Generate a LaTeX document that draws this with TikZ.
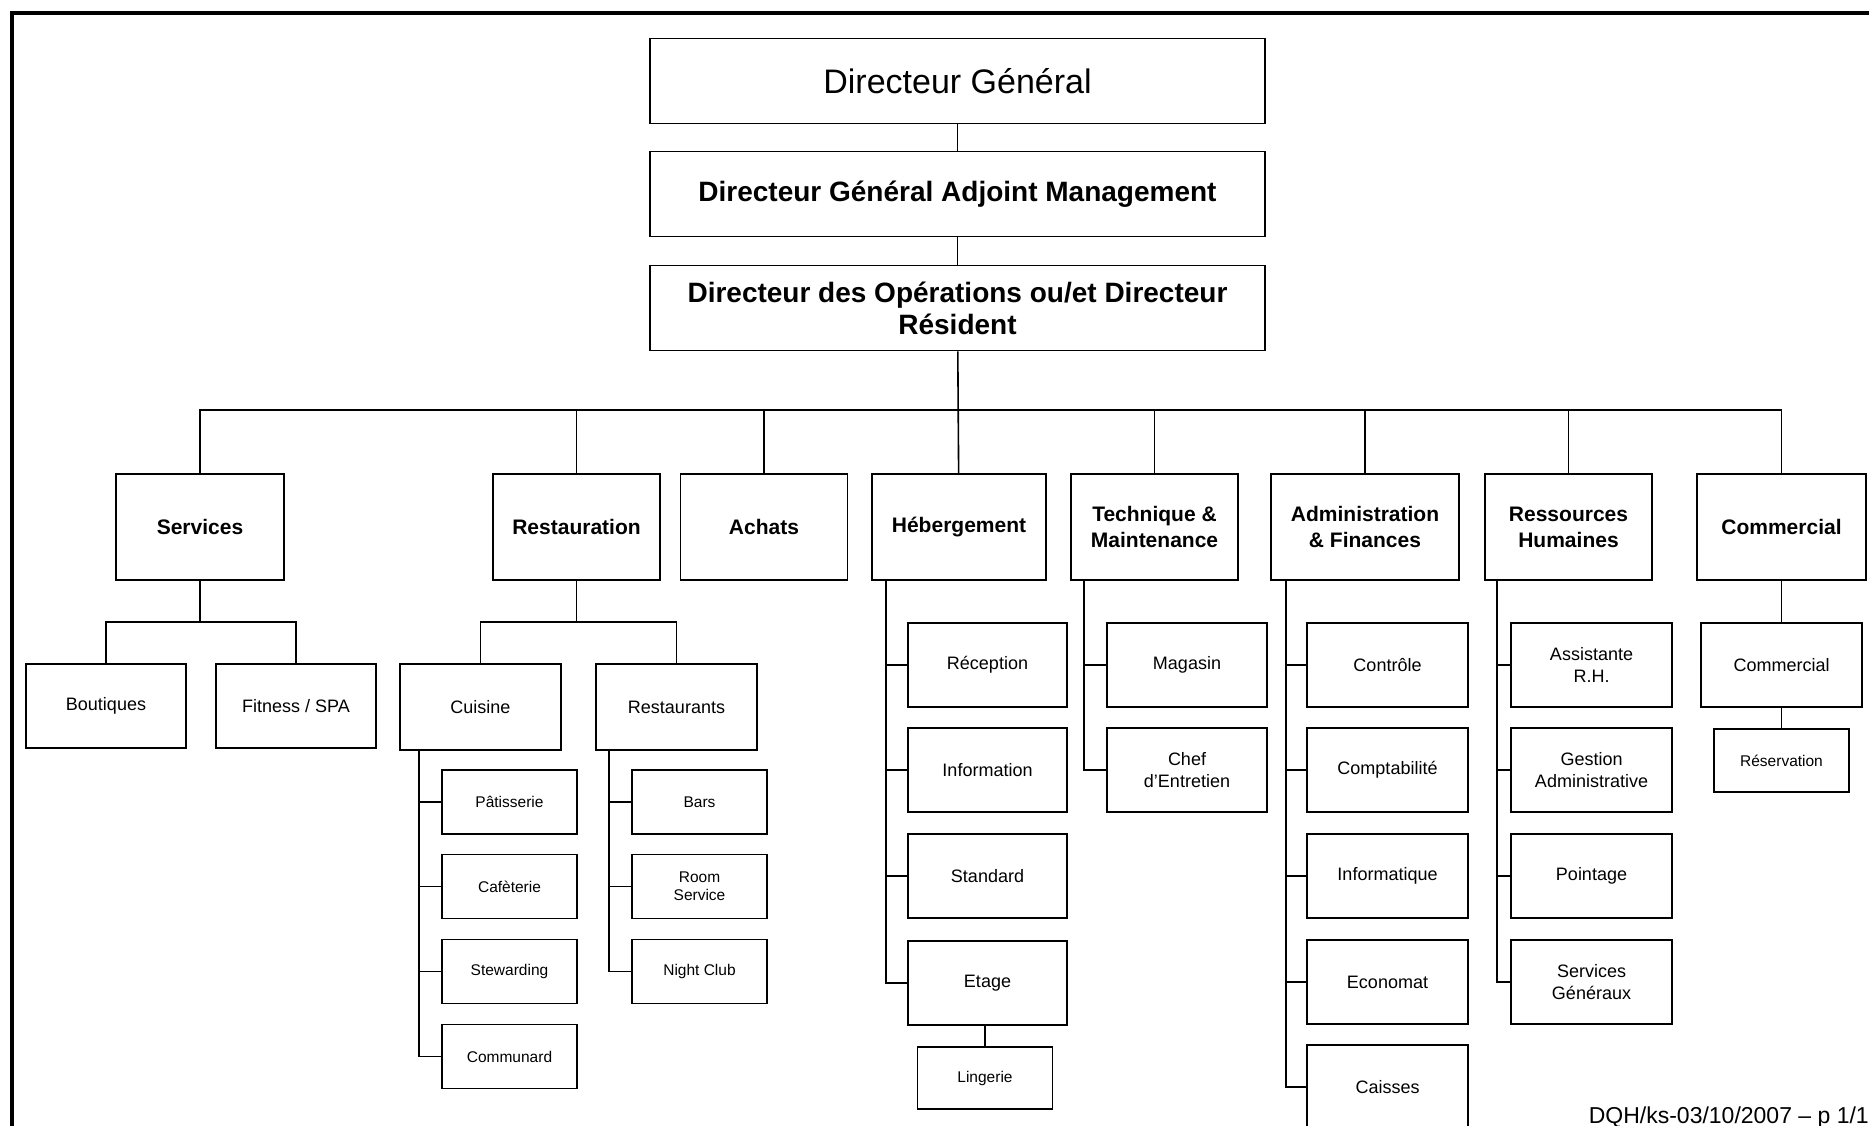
\documentclass[tikz,border=0pt]{standalone}
\usepackage{fontspec}
\setmainfont{Liberation Sans}

\begin{document}
\begin{tikzpicture}[x=1pt,y=-1pt,
	box/.style={draw,line width=1.6pt,align=center,inner sep=0pt},
	chief/.style={box,minimum width=615pt,minimum height=85pt,font=\bfseries\fontsize{28}{32}\selectfont},
	dept/.style={box,minimum height=106pt,font=\bfseries\fontsize{21}{26}\selectfont},
	unit/.style={box,minimum width=160pt,minimum height=84pt,font=\fontsize{18}{22}\selectfont},
	subunit/.style={box,minimum width=135pt,minimum height=64pt,font=\fontsize{15.5}{18}\selectfont},
	link/.style={line width=1.6pt}]
	\useasboundingbox (0,0) rectangle (1869,1126);
	\draw[line width=4pt] (12,1140) -- (12,13) -- (1880,13);

	\node[chief,font=\fontsize{34}{38}\selectfont] (dg) at (957.5,81) {Directeur Général};
	\node[chief] (dga) at (957.5,194) {Directeur Général Adjoint Management};
	\node[chief] (dop) at (957.5,308) {Directeur des Opérations ou/et Directeur\\Résident};

	\node[dept,minimum width=168pt] (serv) at (200,527) {Services};
	\node[dept,minimum width=167pt] (resto) at (576.5,527) {Restauration};
	\node[dept,minimum width=167pt] (achats) at (764,527) {Achats};
	\node[dept,minimum width=174pt] (heb) at (959,527) {Hébergement};
	\node[dept,minimum width=167pt] (tech) at (1154.5,527) {Technique \&\\Maintenance};
	\node[dept,minimum width=188pt] (admin) at (1365,527) {Administration\\\& Finances};
	\node[dept,minimum width=167pt] (rh) at (1568.5,527) {Ressources\\Humaines};
	\node[dept,minimum width=169pt] (comm) at (1781.5,527) {Commercial};

	\node[unit] (bout) at (106,706) {Boutiques};
	\node[unit] (fit) at (296,706) {Fitness / SPA};
	\node[unit,minimum width=161pt,minimum height=86pt] (cuis) at (480.5,707) {Cuisine};
	\node[unit,minimum width=161pt,minimum height=86pt] (rest) at (676.5,707) {Restaurants};

	\node[subunit] (patis) at (509.5,802) {Pâtisserie};
	\node[subunit] (cafet) at (509.5,886.5) {Cafèterie};
	\node[subunit] (stew) at (509.5,971.5) {Stewarding};
	\node[subunit] (commu) at (509.5,1056.5) {Communard};
	\node[subunit] (bars) at (699.5,802) {Bars};
	\node[subunit] (room) at (699.5,886.5) {Room\\Service};
	\node[subunit] (night) at (699.5,971.5) {Night Club};

	\node[unit,minimum width=159pt] (recep) at (987.5,665) {Réception};
	\node[unit,minimum width=159pt] (info) at (987.5,770) {Information};
	\node[unit,minimum width=159pt] (std) at (987.5,876) {Standard};
	\node[unit,minimum width=159pt] (etage) at (987.5,983) {Etage};
	\node[subunit,minimum height=62pt] (ling) at (985,1078) {Lingerie};

	\node[unit] (mag) at (1187,665) {Magasin};
	\node[unit] (chef) at (1187,770) {Chef\\d'Entretien};

	\node[unit,minimum width=161pt] (ctrl) at (1387.5,665) {Contrôle};
	\node[unit,minimum width=161pt] (compta) at (1387.5,770) {Comptabilité};
	\node[unit,minimum width=161pt] (infor) at (1387.5,876) {Informatique};
	\node[unit,minimum width=161pt] (econ) at (1387.5,982) {Economat};
	\node[unit,minimum width=161pt] (caisses) at (1387.5,1087) {Caisses};

	\node[unit,minimum width=161pt] (asst) at (1591.5,665) {Assistante\\R.H.};
	\node[unit,minimum width=161pt] (gest) at (1591.5,770) {Gestion\\Administrative};
	\node[unit,minimum width=161pt] (point) at (1591.5,876) {Pointage};
	\node[unit,minimum width=161pt] (sg) at (1591.5,982) {Services\\Généraux};

	\node[unit,minimum width=161pt] (commc) at (1781.5,665) {Commercial};
	\node[subunit,minimum height=63pt] (resa) at (1781.5,760.5) {Réservation};

	\node[anchor=base east,inner sep=0pt,font=\fontsize{23}{27}\selectfont] (foot) at (1869,1123) {DQH/ks-03/10/2007 – p 1/1};

	\draw[link] (dg) -- (dga);
	\draw[link] (dga) -- (dop);
	\draw[link] (dop) -- (heb);
	\coordinate (bus) at (959,410);
	\draw[link] (serv.north) |- (bus) -| (comm.north);
	\foreach \d in {resto,achats,tech,admin,rh}
		\draw[link] (\d.north) -- (\d.north |- bus);

	\coordinate (servbus) at (200,622);
	\draw[link] (serv) -- (servbus);
	\draw[link] (bout.north) |- (servbus) -| (fit.north);
	\coordinate (restobus) at (576.5,622);
	\draw[link] (resto) -- (restobus);
	\draw[link] (cuis.north) |- (restobus) -| (rest.north);

	\foreach \c in {patis,cafet,stew,commu}
		\draw[link] ([xshift=20pt]cuis.south west) |- (\c.west);
	\foreach \c in {bars,room,night}
		\draw[link] ([xshift=14pt]rest.south west) |- (\c.west);
	\foreach \c in {recep,info,std,etage}
		\draw[link] ([xshift=15pt]heb.south west) |- (\c.west);
	\foreach \c in {mag,chef}
		\draw[link] ([xshift=14pt]tech.south west) |- (\c.west);
	\foreach \c in {ctrl,compta,infor,econ,caisses}
		\draw[link] ([xshift=16pt]admin.south west) |- (\c.west);
	\foreach \c in {asst,gest,point,sg}
		\draw[link] ([xshift=13pt]rh.south west) |- (\c.west);

	\draw[link] (ling.north) -- (ling.north |- etage.south);
	\draw[link] (comm) -- (commc);
	\draw[link] (commc) -- (resa);
\end{tikzpicture}
\end{document}
